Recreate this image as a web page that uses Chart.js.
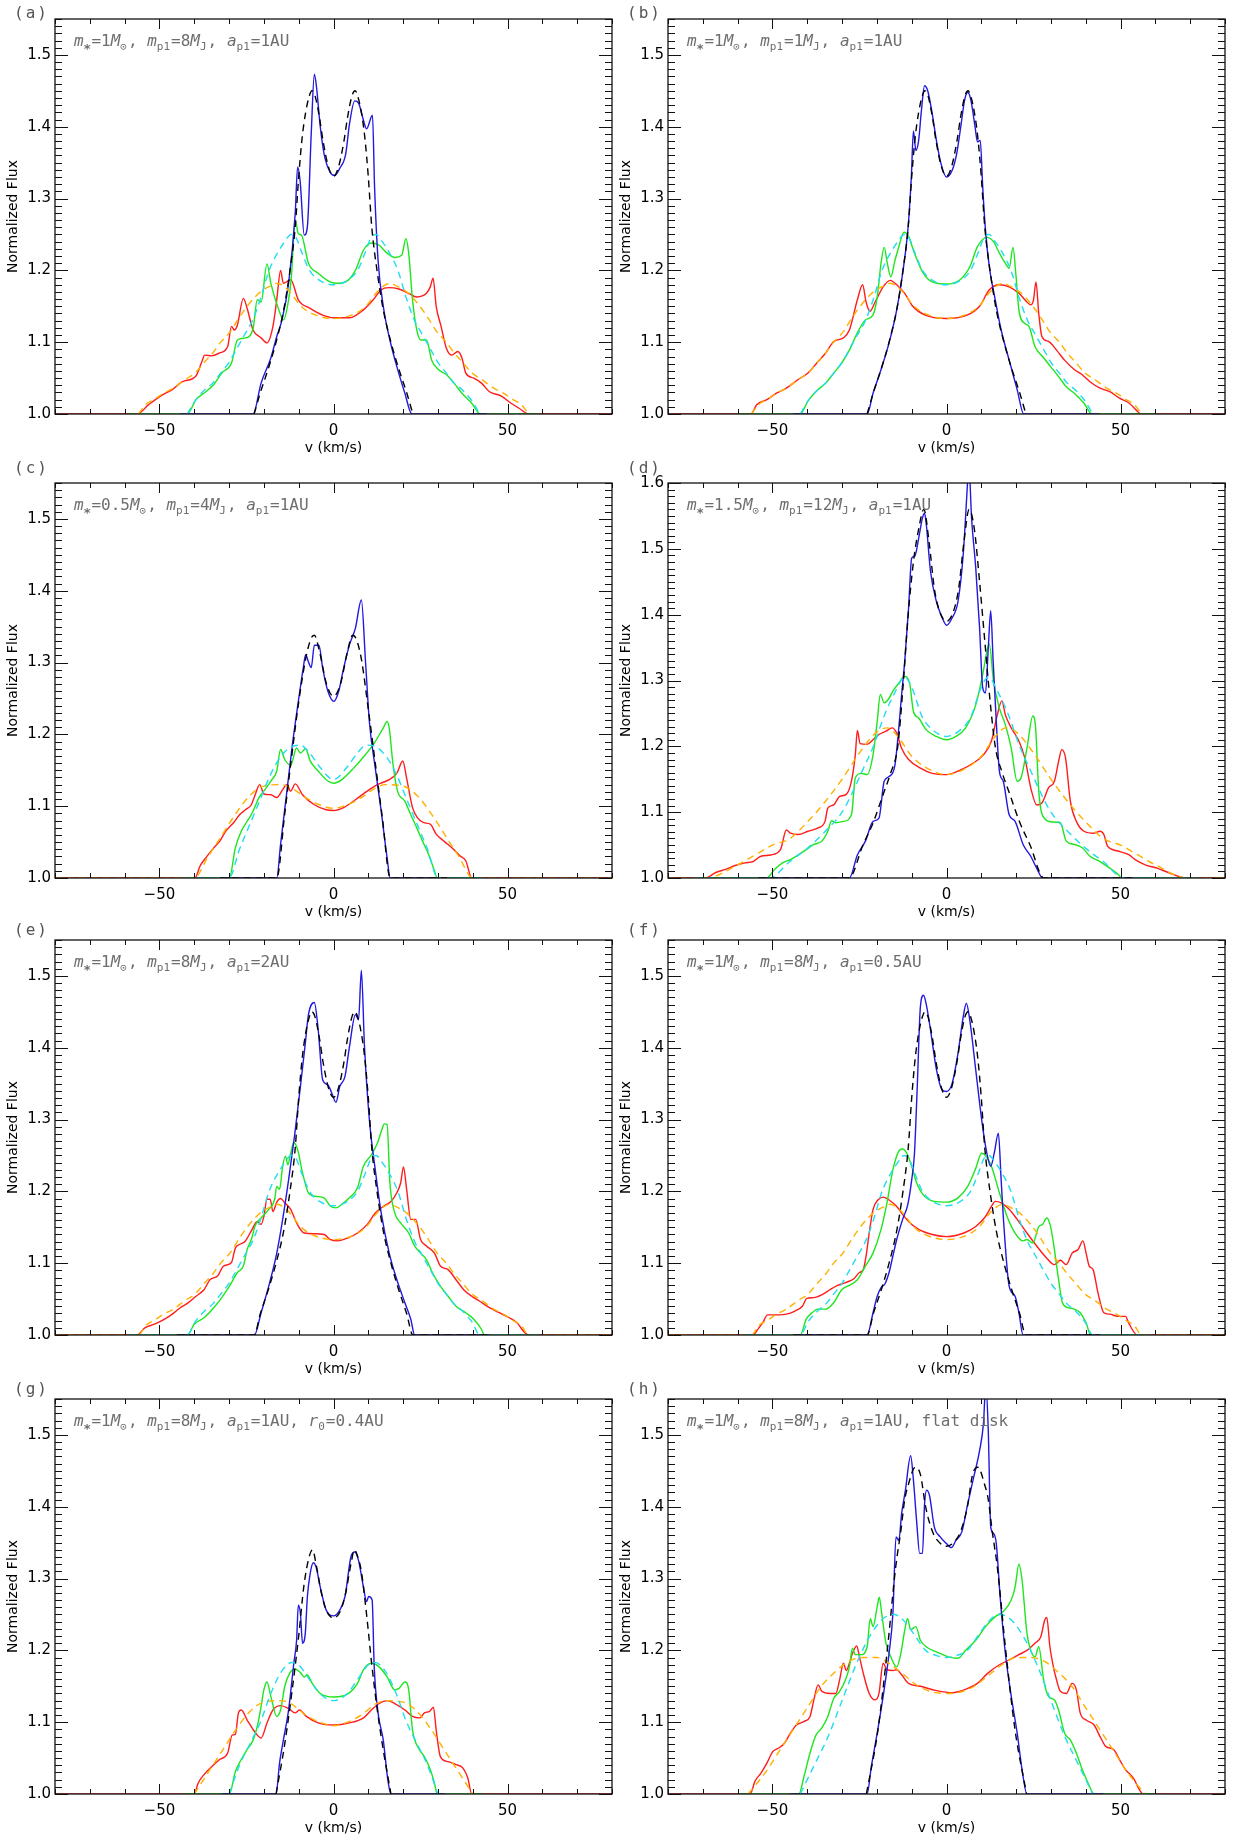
<!DOCTYPE html>
<html>
<head>
<meta charset="utf-8">
<script src="https://cdn.jsdelivr.net/npm/chart.js@4.4.1/dist/chart.umd.min.js"></script>
<style>
  body { margin: 0; background: #fff; overflow: hidden; }
  #fig { position: relative; width: 1240px; height: 1838px; background: #fff; overflow: hidden; }
  #fig canvas { position: absolute; }
</style>
</head>
<body>
<div id="fig"></div>
<script>
// ---- axes ----
const vMin = -80, vMax = 80;
const xLabelStep = 50;
const yStep = 0.1;
const yTops = [1.55, 1.55, 1.55, 1.6, 1.55, 1.55, 1.55, 1.55];
const tags = ['(a)', '(b)', '(c)', '(d)', '(e)', '(f)', '(g)', '(h)'];
const notes = [
  '{m}_*=1{M}_⊙, {m}_p1=8{M}_J, {a}_p1=1AU',
  '{m}_*=1{M}_⊙, {m}_p1=1{M}_J, {a}_p1=1AU',
  '{m}_*=0.5{M}_⊙, {m}_p1=4{M}_J, {a}_p1=1AU',
  '{m}_*=1.5{M}_⊙, {m}_p1=12{M}_J, {a}_p1=1AU',
  '{m}_*=1{M}_⊙, {m}_p1=8{M}_J, {a}_p1=2AU',
  '{m}_*=1{M}_⊙, {m}_p1=8{M}_J, {a}_p1=0.5AU',
  '{m}_*=1{M}_⊙, {m}_p1=8{M}_J, {a}_p1=1AU, {r}_0=0.4AU',
  '{m}_*=1{M}_⊙, {m}_p1=8{M}_J, {a}_p1=1AU, flat disk'
];
// flat baseline (flux 1.0) extends out to these velocities
const blueSpan = [44, 44, 32.6, 54, 45, 44, 32, 45];
const greenSpan = [59, 60, 43, 72, 59, 58, 43, 60];
const redSpan = [80, 80, 80, 80, 80, 80, 80, 80];
const dashOnBase = [false, false, true, true, true, true, false, false];

// ---- unperturbed disk profiles, m* = 1 Msun ----
const disk1Black = [[-22.8,1.0],[-21,1.03],[-18.8,1.062],[-16.5,1.1],[-14.3,1.145],[-12.5,1.2],[-11,1.26],[-10,1.33],[-9,1.385],[-8,1.42],[-7,1.442],[-6.2,1.45],[-5.3,1.443],[-4,1.412],[-3,1.38],[-1.5,1.345],[0,1.331],[1.5,1.345],[3,1.38],[4,1.412],[5.3,1.443],[6.2,1.45],[7,1.442],[8,1.42],[9,1.385],[10,1.33],[11,1.26],[12.5,1.2],[14.3,1.145],[16.5,1.1],[18.8,1.062],[21,1.03],[22.8,1.0]];
const disk1Cyan = [[-42,1.0],[-39.8,1.018],[-36.9,1.034],[-34.7,1.043],[-32.4,1.057],[-30,1.072],[-28,1.089],[-25.6,1.11],[-23.3,1.13],[-21,1.16],[-18.5,1.2],[-16,1.225],[-14,1.24],[-12.2,1.25],[-10.9,1.247],[-9.2,1.226],[-6.9,1.2],[-4,1.186],[0,1.18],[4,1.186],[6.9,1.2],[9.2,1.226],[10.9,1.247],[12.2,1.25],[14,1.24],[16,1.225],[18.5,1.2],[21,1.16],[23.3,1.13],[25.6,1.11],[28,1.089],[30,1.072],[32.4,1.057],[34.7,1.043],[36.9,1.034],[39.8,1.018],[42,1.0]];
const disk1Orange = [[-56,1.0],[-54,1.013],[-51.6,1.02],[-48.8,1.029],[-46,1.036],[-42.6,1.048],[-39.8,1.057],[-36.9,1.073],[-34.7,1.085],[-32.4,1.1],[-29.6,1.115],[-27,1.135],[-24,1.155],[-21,1.17],[-18.2,1.178],[-16.2,1.182],[-14.3,1.178],[-12,1.167],[-9.7,1.152],[-6.3,1.14],[0,1.133],[6.3,1.14],[9.7,1.152],[12,1.167],[14.3,1.178],[16.2,1.182],[18.2,1.178],[21,1.17],[24,1.155],[27,1.135],[29.6,1.115],[32.4,1.1],[34.7,1.085],[36.9,1.073],[39.8,1.057],[42.6,1.048],[46,1.036],[48.8,1.029],[51.6,1.02],[54,1.013],[56,1.0]];

// ---- (a) ----
const aBlue = [[-23.1,1.0],[-20.8,1.043],[-18.0,1.078],[-16.3,1.108],[-14.8,1.131],[-12.9,1.182],[-11.0,1.279],[-10.3,1.344],[-9.6,1.325],[-8.4,1.249],[-7.5,1.261],[-6.4,1.39],[-5.5,1.473],[-4.9,1.456],[-3.8,1.40],[-2.7,1.362],[-1.0,1.337],[0.3,1.332],[1.8,1.342],[3.5,1.362],[4.6,1.404],[6.1,1.436],[7.2,1.433],[8.6,1.409],[9.5,1.397],[11.2,1.416],[11.8,1.316],[12.8,1.214],[14.3,1.150],[16.2,1.103],[18.2,1.066],[20.5,1.029],[22.5,1.0]];
const aGreen = [[-42.0,1.0],[-39.5,1.02],[-36.7,1.031],[-34.4,1.041],[-32.1,1.057],[-29.3,1.071],[-27.6,1.103],[-25.3,1.106],[-23.1,1.119],[-21.9,1.159],[-20.8,1.156],[-19.1,1.209],[-18.0,1.182],[-15.7,1.145],[-14.4,1.131],[-12.9,1.159],[-12.1,1.191],[-11.0,1.270],[-10.1,1.251],[-9.2,1.249],[-7.2,1.210],[-4.4,1.196],[-1.0,1.184],[1.2,1.182],[3.5,1.184],[6.3,1.200],[8.6,1.228],[10.9,1.238],[13.1,1.235],[15.4,1.224],[17.6,1.218],[19.6,1.221],[20.8,1.244],[21.6,1.224],[22.7,1.159],[24.1,1.113],[25.2,1.103],[26.7,1.103],[28.2,1.075],[30.1,1.062],[32.4,1.055],[34.6,1.043],[36.9,1.029],[39.7,1.015],[42.2,1.0]];
const aRed = [[-56.4,1.0],[-53.1,1.013],[-49.7,1.025],[-46.3,1.034],[-43.4,1.045],[-39.5,1.053],[-37.8,1.073],[-37.0,1.082],[-35.0,1.081],[-32.7,1.085],[-30.4,1.094],[-29.3,1.122],[-28.5,1.117],[-27.6,1.124],[-25.9,1.161],[-24.8,1.147],[-23.1,1.117],[-20.8,1.106],[-19.1,1.099],[-17.4,1.122],[-16.3,1.159],[-15.2,1.200],[-14.4,1.182],[-12.3,1.187],[-10.1,1.159],[-6.7,1.147],[-3.3,1.138],[0.1,1.134],[4.6,1.134],[8.6,1.145],[11.4,1.159],[13.7,1.173],[15.9,1.176],[18.8,1.174],[21.6,1.168],[23.9,1.163],[26.7,1.168],[27.8,1.177],[28.6,1.189],[29.5,1.150],[30.9,1.122],[32.4,1.092],[34.0,1.082],[35.7,1.087],[36.9,1.078],[38.0,1.057],[40.3,1.050],[42.5,1.043],[44.8,1.031],[48.2,1.025],[51.0,1.015],[53.3,1.008],[56.1,1.0]];

// ---- (b) ----
const bBlue = [[-22.8,1.0],[-21.1,1.029],[-18.8,1.062],[-16.5,1.099],[-14.3,1.145],[-12.6,1.196],[-11.1,1.256],[-10.1,1.330],[-9.5,1.394],[-8.8,1.367],[-8.0,1.381],[-7.2,1.423],[-6.3,1.457],[-5.4,1.450],[-4.1,1.418],[-2.9,1.381],[-1.6,1.349],[0,1.330],[1.6,1.339],[2.9,1.362],[4.1,1.400],[5.2,1.437],[6.1,1.448],[7.0,1.437],[8.2,1.400],[8.9,1.379],[9.7,1.381],[10.4,1.316],[11.2,1.256],[12.3,1.205],[14.0,1.159],[15.7,1.117],[18.0,1.075],[20.3,1.034],[22.2,1.0]];
const bGreen = [[-42.0,1.0],[-39.8,1.018],[-36.9,1.034],[-34.7,1.043],[-32.4,1.057],[-30.1,1.071],[-27.9,1.089],[-25.6,1.113],[-23.3,1.131],[-21.1,1.138],[-19.9,1.163],[-18.8,1.210],[-17.9,1.232],[-17.0,1.210],[-16.0,1.191],[-14.8,1.214],[-13.7,1.233],[-12.2,1.253],[-10.9,1.247],[-9.2,1.224],[-6.9,1.198],[-4.1,1.184],[0,1.181],[3.9,1.187],[6.7,1.205],[8.9,1.233],[11.6,1.246],[13.5,1.240],[15.2,1.224],[16.9,1.210],[18.0,1.203],[19.1,1.232],[19.9,1.196],[20.8,1.145],[22.5,1.126],[23.7,1.122],[25.4,1.094],[27.6,1.080],[29.9,1.066],[32.2,1.052],[34.4,1.038],[36.7,1.029],[39.5,1.015],[41.8,1.0]];
const bRed = [[-56.2,1.0],[-54.5,1.013],[-51.6,1.020],[-48.8,1.029],[-46.0,1.036],[-42.6,1.048],[-39.8,1.057],[-36.9,1.073],[-34.7,1.085],[-32.4,1.101],[-29.6,1.106],[-27.9,1.117],[-25.6,1.159],[-24.1,1.180],[-23.1,1.156],[-22.0,1.143],[-20.5,1.156],[-18.2,1.177],[-16.2,1.186],[-14.3,1.180],[-12.0,1.168],[-9.7,1.150],[-6.3,1.138],[0,1.133],[6.1,1.138],[9.5,1.150],[12.3,1.173],[15.2,1.180],[18.0,1.177],[20.8,1.168],[23.1,1.156],[24.2,1.152],[25.0,1.159],[25.7,1.184],[26.5,1.140],[27.4,1.108],[29.3,1.101],[31.6,1.089],[33.9,1.075],[36.7,1.062],[38.9,1.055],[41.2,1.045],[44.1,1.036],[46.9,1.031],[49.7,1.022],[52.5,1.015],[54.8,1.004],[55.9,1.0]];

// ---- (c) ----
const cBlack = [[-16.3,1.0],[-14,1.09],[-12,1.17],[-10,1.245],[-8,1.305],[-6.5,1.333],[-5.5,1.338],[-4,1.315],[-2,1.27],[0,1.253],[2,1.27],[4,1.315],[5.5,1.338],[6.5,1.333],[8,1.305],[10,1.235],[12,1.16],[14,1.085],[16.3,1.0]];
const cCyan = [[-30,1.0],[-27,1.04],[-24,1.075],[-21,1.11],[-18,1.145],[-15,1.17],[-12,1.183],[-9.5,1.185],[-7,1.175],[-4,1.155],[0,1.137],[4,1.155],[7,1.175],[9.5,1.185],[12,1.183],[15,1.17],[18,1.145],[21,1.11],[24,1.075],[27,1.04],[30,1.0]];
const cOrange = [[-40,1.0],[-36,1.03],[-32,1.06],[-28,1.09],[-24,1.115],[-20,1.128],[-15,1.13],[-12,1.125],[-8,1.112],[-4,1.102],[0,1.097],[4,1.102],[8,1.112],[12,1.125],[15,1.13],[20,1.128],[24,1.115],[28,1.09],[32,1.06],[36,1.03],[40,1.0]];
const cBlue = [[-16.3,1.0],[-15.2,1.047],[-13.5,1.116],[-11.8,1.186],[-10.1,1.246],[-8.7,1.292],[-8.0,1.311],[-7.2,1.301],[-6.4,1.293],[-5.5,1.324],[-4.2,1.324],[-3.1,1.292],[-1.6,1.260],[0.1,1.246],[1.5,1.260],[2.9,1.292],[4.6,1.325],[6.3,1.348],[8.0,1.387],[9.2,1.301],[10.3,1.218],[12.0,1.153],[13.7,1.093],[15.4,1.028],[16.3,1.0]];
const cGreen = [[-29.9,1.0],[-28.2,1.042],[-26.5,1.065],[-24.8,1.079],[-23.1,1.093],[-21.4,1.112],[-19.7,1.123],[-18.0,1.135],[-16.3,1.149],[-15.2,1.179],[-14.0,1.165],[-12.3,1.157],[-10.6,1.181],[-9.5,1.174],[-8.0,1.180],[-6.7,1.163],[-4.4,1.149],[-1.6,1.135],[0.1,1.132],[2.4,1.137],[5.8,1.153],[9.2,1.172],[12.0,1.190],[14.3,1.209],[15.4,1.218],[16.0,1.209],[17.1,1.158],[18.4,1.121],[20.5,1.107],[22.2,1.088],[23.9,1.070],[25.6,1.051],[27.3,1.033],[29.0,1.010],[29.8,1.0]];
const cRed = [[-39.8,1.0],[-38.3,1.017],[-36.7,1.028],[-34.4,1.042],[-32.7,1.051],[-31.0,1.065],[-28.7,1.077],[-27.0,1.088],[-25.3,1.095],[-23.6,1.102],[-22.5,1.116],[-21.2,1.130],[-20.0,1.117],[-18.0,1.116],[-16.3,1.112],[-14.6,1.123],[-13.5,1.130],[-12.3,1.121],[-11.0,1.131],[-8.9,1.116],[-5.5,1.102],[-2.1,1.095],[0.1,1.094],[2.9,1.098],[6.3,1.109],[9.7,1.121],[12.6,1.130],[16.0,1.137],[18.2,1.146],[19.9,1.163],[21.0,1.139],[22.7,1.098],[24.1,1.084],[25.9,1.077],[27.8,1.075],[29.5,1.061],[31.8,1.051],[34.0,1.042],[36.3,1.031],[38.0,1.024],[39.7,1.0]];

// ---- (d) ----
const dBlack = [[-28,1.0],[-24,1.05],[-21,1.085],[-18,1.13],[-16,1.16],[-14,1.2],[-12.5,1.29],[-11,1.4],[-9.5,1.48],[-8,1.53],[-6.5,1.56],[-5,1.51],[-3.5,1.44],[-2,1.405],[0,1.39],[2,1.405],[3.5,1.44],[5,1.51],[6.5,1.56],[8,1.53],[9.5,1.45],[11,1.36],[12.5,1.27],[14,1.2],[16,1.16],[18,1.13],[21,1.085],[24,1.05],[28,1.0]];
const dCyan = [[-51,1.0],[-45,1.025],[-40,1.045],[-35,1.07],[-30,1.1],[-27,1.13],[-24,1.165],[-21,1.2],[-18,1.245],[-15,1.28],[-12,1.305],[-10,1.29],[-7,1.245],[-4,1.225],[0,1.215],[4,1.225],[7,1.245],[10,1.29],[12,1.305],[15,1.28],[18,1.245],[21,1.2],[24,1.165],[27,1.13],[30,1.1],[35,1.07],[40,1.045],[45,1.025],[51,1.0]];
const dOrange = [[-69,1.0],[-60,1.02],[-55,1.035],[-50,1.05],[-45,1.06],[-40,1.085],[-35,1.115],[-30,1.15],[-25,1.19],[-20,1.222],[-17,1.228],[-14,1.215],[-10,1.185],[-6,1.168],[0,1.157],[6,1.168],[10,1.185],[14,1.215],[17,1.228],[20,1.222],[25,1.19],[30,1.15],[35,1.115],[40,1.085],[45,1.06],[50,1.05],[55,1.035],[60,1.02],[69,1.0]];
const dBlue = [[-27.9,1.0],[-25.6,1.035],[-23.3,1.056],[-21.1,1.086],[-19.4,1.091],[-17.9,1.147],[-16.5,1.154],[-14.8,1.172],[-13.7,1.228],[-12.9,1.278],[-12.0,1.329],[-10.9,1.410],[-10.0,1.486],[-9.1,1.489],[-8.0,1.516],[-6.9,1.547],[-6.3,1.554],[-5.8,1.537],[-4.6,1.466],[-2.9,1.420],[-1.2,1.395],[0,1.384],[1.6,1.395],[3.3,1.420],[4.8,1.491],[5.9,1.587],[6.4,1.63],[7.2,1.547],[8.4,1.471],[9.5,1.380],[10.4,1.289],[11.2,1.281],[12.0,1.349],[12.7,1.406],[13.4,1.329],[14.3,1.238],[15.2,1.162],[16.3,1.147],[18.0,1.096],[19.7,1.086],[22.0,1.051],[24.2,1.033],[25.9,1.015],[27.6,1.0]];
const dGreen = [[-51.6,1.0],[-49.4,1.013],[-47.1,1.023],[-44.8,1.028],[-42.6,1.035],[-40.3,1.043],[-38.1,1.051],[-35.8,1.056],[-34.1,1.071],[-33.0,1.087],[-31.8,1.084],[-29.6,1.086],[-27.3,1.096],[-26.2,1.152],[-24.5,1.159],[-22.8,1.157],[-21.1,1.187],[-19.9,1.238],[-19.0,1.279],[-17.9,1.266],[-16.5,1.273],[-15.4,1.284],[-13.7,1.296],[-12.0,1.306],[-10.6,1.296],[-9.5,1.253],[-8.0,1.243],[-5.8,1.225],[-2.9,1.215],[0,1.210],[2.7,1.215],[5.5,1.228],[8.4,1.263],[10.4,1.309],[11.8,1.349],[12.3,1.355],[13.5,1.299],[15.2,1.258],[16.9,1.233],[18.6,1.197],[20.3,1.147],[21.4,1.152],[23.1,1.197],[24.8,1.246],[25.6,1.228],[26.5,1.132],[28.2,1.090],[30.5,1.085],[32.7,1.084],[34.4,1.056],[36.7,1.051],[39.0,1.046],[41.2,1.033],[44.1,1.025],[46.9,1.015],[49.4,1.005],[50.3,1.0]];
const dRed = [[-69.2,1.0],[-66.4,1.008],[-63.5,1.013],[-60.7,1.019],[-57.9,1.023],[-55.6,1.025],[-53.3,1.033],[-50.5,1.035],[-47.7,1.043],[-46.0,1.073],[-44.8,1.068],[-42.6,1.066],[-39.8,1.071],[-36.9,1.076],[-34.9,1.086],[-34.1,1.106],[-32.4,1.111],[-30.7,1.124],[-28.8,1.127],[-27.3,1.147],[-26.2,1.187],[-25.6,1.224],[-24.8,1.204],[-22.8,1.203],[-21.1,1.210],[-19.4,1.218],[-17.4,1.223],[-15.6,1.228],[-14.3,1.220],[-12.9,1.197],[-10.9,1.180],[-7.5,1.167],[-4.1,1.159],[0,1.157],[4.4,1.165],[7.8,1.175],[10.6,1.187],[12.9,1.208],[14.6,1.248],[15.9,1.269],[16.9,1.248],[18.6,1.228],[20.8,1.208],[22.5,1.182],[24.2,1.137],[25.9,1.111],[27.4,1.114],[29.3,1.137],[31.0,1.147],[32.2,1.177],[33.1,1.195],[34.2,1.182],[35.6,1.116],[37.3,1.086],[39.5,1.071],[42.4,1.068],[44.1,1.071],[45.2,1.066],[46.3,1.048],[49.2,1.041],[52.5,1.035],[54.2,1.028],[57.1,1.020],[60.5,1.015],[63.9,1.008],[69.0,1.0]];

// ---- (e) ----
const eBlue = [[-22.7,1.0],[-20.8,1.031],[-18.6,1.068],[-16.3,1.114],[-14.6,1.161],[-12.9,1.216],[-11.2,1.277],[-9.5,1.346],[-8.1,1.406],[-7.2,1.446],[-5.5,1.463],[-4.4,1.425],[-3.1,1.355],[-1.6,1.348],[-0.5,1.337],[0.7,1.324],[1.8,1.346],[3.3,1.360],[4.6,1.402],[6.3,1.446],[7.2,1.439],[8.0,1.508],[8.9,1.402],[10.3,1.300],[12.0,1.230],[13.7,1.170],[16.0,1.114],[18.2,1.077],[20.5,1.045],[22.2,1.022],[23.3,1.0]];
const eGreen = [[-42.0,1.0],[-40.0,1.015],[-37.2,1.024],[-34.4,1.038],[-32.1,1.052],[-29.9,1.068],[-27.6,1.087],[-25.9,1.096],[-24.8,1.119],[-23.6,1.133],[-22.5,1.152],[-20.8,1.163],[-18.6,1.175],[-16.9,1.189],[-16.3,1.207],[-15.5,1.203],[-14.6,1.235],[-13.8,1.249],[-13.1,1.237],[-12.3,1.253],[-11.4,1.268],[-10.3,1.258],[-8.9,1.226],[-7.2,1.198],[-5.0,1.193],[-2.7,1.191],[-1.0,1.180],[0.7,1.177],[2.4,1.182],[4.6,1.191],[6.9,1.205],[8.6,1.235],[10.9,1.251],[12.6,1.267],[13.9,1.286],[14.6,1.294],[15.4,1.293],[16.2,1.212],[17.6,1.170],[19.3,1.156],[21.6,1.142],[23.3,1.124],[25.0,1.114],[26.7,1.105],[28.4,1.087],[30.7,1.068],[32.9,1.054],[35.2,1.040],[38.0,1.031],[40.3,1.022],[42.5,1.008],[43.3,1.0]];
const eRed = [[-56.4,1.0],[-54.2,1.010],[-51.4,1.015],[-48.5,1.022],[-46.3,1.029],[-44.0,1.038],[-41.7,1.045],[-39.5,1.054],[-37.2,1.063],[-35.5,1.077],[-33.3,1.082],[-31.6,1.096],[-29.3,1.101],[-28.2,1.121],[-27.0,1.126],[-25.3,1.131],[-23.6,1.145],[-21.9,1.158],[-20.8,1.154],[-20.0,1.165],[-19.1,1.189],[-18.2,1.189],[-17.4,1.172],[-16.3,1.185],[-15.2,1.190],[-14.0,1.184],[-12.3,1.175],[-10.6,1.156],[-8.4,1.142],[-5.5,1.141],[-2.7,1.140],[-1.0,1.133],[1.2,1.131],[4.1,1.135],[6.9,1.142],[9.7,1.154],[12.0,1.170],[14.3,1.179],[16.5,1.186],[18.2,1.198],[19.3,1.212],[20.1,1.234],[21.0,1.203],[22.2,1.161],[23.6,1.161],[25.0,1.133],[26.7,1.124],[29.0,1.114],[30.7,1.096],[32.9,1.091],[35.2,1.077],[37.4,1.063],[39.7,1.054],[42.0,1.047],[44.8,1.038],[47.6,1.031],[50.5,1.024],[52.7,1.017],[55.0,1.003],[56.1,1.0]];

// ---- (f) ----
const fBlue = [[-22.8,1.0],[-21.1,1.031],[-19.9,1.054],[-18.8,1.066],[-17.7,1.071],[-16.5,1.087],[-15.4,1.110],[-14.3,1.133],[-12.6,1.161],[-11.1,1.182],[-10.0,1.216],[-9.2,1.253],[-8.4,1.346],[-7.5,1.457],[-6.6,1.473],[-5.8,1.460],[-4.6,1.425],[-2.9,1.370],[-1.2,1.341],[0,1.339],[1.6,1.350],[3.3,1.392],[4.8,1.443],[5.7,1.462],[6.7,1.438],[8.4,1.369],[10.1,1.300],[11.6,1.253],[12.7,1.235],[13.7,1.253],[14.9,1.281],[15.7,1.216],[16.5,1.151],[18.0,1.068],[19.7,1.054],[20.8,1.031],[22.0,1.0]];
const fGreen = [[-42.0,1.0],[-40.3,1.022],[-38.6,1.031],[-36.9,1.036],[-34.7,1.036],[-32.4,1.045],[-30.1,1.063],[-28.4,1.068],[-25.6,1.077],[-23.3,1.096],[-21.1,1.114],[-18.8,1.147],[-17.1,1.184],[-15.4,1.230],[-13.7,1.256],[-12.6,1.259],[-11.4,1.253],[-10.0,1.235],[-8.6,1.212],[-6.3,1.193],[-3.5,1.186],[0,1.185],[3.3,1.191],[6.1,1.207],[8.4,1.232],[10.1,1.253],[11.2,1.250],[12.9,1.235],[15.2,1.198],[17.4,1.165],[19.7,1.142],[22.0,1.131],[23.1,1.133],[24.8,1.128],[26.5,1.151],[27.6,1.154],[28.8,1.163],[29.9,1.151],[31.0,1.119],[32.2,1.077],[33.3,1.045],[35.0,1.038],[36.7,1.036],[38.4,1.031],[40.1,1.017],[41.4,1.0]];
const fRed = [[-55.6,1.0],[-53.9,1.010],[-52.8,1.017],[-51.4,1.028],[-49.9,1.028],[-48.2,1.028],[-46.0,1.029],[-43.7,1.033],[-41.4,1.040],[-40.1,1.051],[-38.1,1.052],[-35.8,1.056],[-33.5,1.063],[-31.3,1.069],[-29.0,1.073],[-26.7,1.078],[-25.0,1.087],[-23.9,1.091],[-23.1,1.110],[-22.2,1.142],[-21.1,1.175],[-19.7,1.188],[-18.2,1.192],[-16.5,1.188],[-14.3,1.179],[-12.6,1.168],[-10.9,1.158],[-8.0,1.147],[-4.1,1.140],[0,1.137],[5.0,1.142],[8.4,1.151],[11.2,1.165],[12.9,1.179],[14.0,1.186],[15.7,1.184],[18.0,1.175],[20.3,1.161],[23.1,1.142],[25.9,1.124],[28.8,1.107],[31.0,1.098],[32.7,1.104],[34.4,1.098],[36.1,1.114],[37.8,1.119],[39.2,1.131],[40.1,1.114],[41.0,1.096],[42.1,1.091],[43.5,1.059],[45.2,1.031],[46.9,1.029],[49.2,1.026],[51.4,1.026],[52.5,1.015],[54.8,1.0]];

// ---- (g) ----
const gBlack = [[-16.5,1.0],[-14,1.07],[-12,1.14],[-10,1.22],[-8.5,1.29],[-7,1.33],[-6,1.34],[-5,1.32],[-3.5,1.28],[-2,1.255],[0,1.245],[2,1.255],[3.5,1.28],[5,1.32],[6,1.34],[7,1.33],[8,1.31],[9.5,1.25],[11,1.18],[12.5,1.12],[14,1.07],[16.5,1.0]];
const gCyan = [[-30,1.0],[-27,1.04],[-24,1.07],[-21,1.10],[-18,1.14],[-15,1.17],[-12,1.183],[-10,1.18],[-7,1.16],[-4,1.14],[0,1.13],[4,1.14],[7,1.16],[10,1.18],[12,1.183],[15,1.17],[18,1.14],[21,1.10],[24,1.07],[27,1.04],[30,1.0]];
const gOrange = [[-40,1.0],[-36,1.03],[-32,1.06],[-28,1.09],[-24,1.115],[-20,1.128],[-15,1.13],[-12,1.125],[-8,1.11],[-4,1.1],[0,1.095],[4,1.1],[8,1.11],[12,1.125],[15,1.13],[20,1.128],[24,1.115],[28,1.09],[32,1.06],[36,1.03],[40,1.0]];
const gBlue = [[-16.5,1.0],[-15.5,1.043],[-14.4,1.075],[-12.9,1.117],[-11.4,1.182],[-10.6,1.214],[-10.1,1.263],[-9.5,1.251],[-8.9,1.210],[-8.1,1.224],[-7.5,1.275],[-6.7,1.307],[-5.8,1.322],[-5.0,1.316],[-3.8,1.288],[-2.1,1.256],[0.1,1.248],[1.8,1.256],[3.3,1.275],[5.0,1.330],[6.1,1.337],[7.2,1.325],[8.6,1.288],[9.5,1.268],[10.1,1.275],[11.1,1.270],[11.7,1.177],[12.8,1.113],[14.3,1.075],[15.6,1.020],[16.5,1.0]];
const gGreen = [[-29.9,1.0],[-28.2,1.031],[-26.5,1.048],[-24.8,1.062],[-23.1,1.075],[-21.9,1.094],[-20.8,1.122],[-20.0,1.145],[-19.1,1.156],[-18.0,1.136],[-16.3,1.108],[-15.2,1.117],[-14.0,1.150],[-12.6,1.168],[-11.0,1.174],[-9.5,1.169],[-8.4,1.163],[-7.6,1.166],[-6.1,1.154],[-3.8,1.140],[0.1,1.135],[4.0,1.139],[6.9,1.154],[8.6,1.173],[10.9,1.182],[13.1,1.177],[15.4,1.163],[17.6,1.145],[18.8,1.147],[20.5,1.156],[21.6,1.145],[22.7,1.089],[24.4,1.064],[26.1,1.052],[27.8,1.034],[29.0,1.015],[29.8,1.0]];
const gRed = [[-40.0,1.0],[-38.9,1.015],[-37.2,1.027],[-35.0,1.038],[-32.7,1.048],[-30.4,1.057],[-29.1,1.082],[-28.2,1.083],[-27.3,1.113],[-26.5,1.117],[-24.8,1.103],[-22.7,1.087],[-20.8,1.078],[-19.1,1.099],[-17.4,1.117],[-15.2,1.123],[-12.9,1.119],[-11.0,1.113],[-9.8,1.117],[-7.8,1.108],[-4.4,1.099],[0.1,1.096],[4.6,1.099],[8.6,1.106],[10.9,1.117],[13.1,1.126],[15.4,1.130],[17.6,1.126],[20.5,1.117],[22.7,1.108],[24.8,1.106],[26.1,1.113],[27.6,1.115],[28.7,1.121],[29.5,1.089],[30.7,1.052],[32.9,1.045],[35.2,1.041],[37.2,1.036],[38.6,1.022],[39.7,1.0]];

// ---- (h) ----
const hBlack = [[-23,1.0],[-19.7,1.089],[-16.9,1.205],[-14.6,1.316],[-13.1,1.367],[-12,1.41],[-11,1.43],[-9,1.455],[-7.5,1.445],[-6,1.40],[-4,1.365],[-2,1.35],[0,1.345],[2,1.35],[4,1.365],[6,1.40],[7.5,1.445],[9,1.455],[11,1.43],[12,1.41],[13.1,1.367],[14.6,1.316],[16.9,1.205],[19.7,1.089],[23,1.0]];
const hCyan = [[-42,1.0],[-38,1.04],[-34,1.08],[-30,1.13],[-26,1.18],[-22,1.22],[-18,1.245],[-15,1.25],[-12,1.24],[-9,1.22],[-6,1.2],[-3,1.193],[0,1.19],[3,1.193],[6,1.2],[9,1.22],[12,1.24],[15,1.25],[18,1.245],[22,1.22],[26,1.18],[30,1.13],[34,1.08],[38,1.04],[42,1.0]];
const hOrange = [[-57,1.0],[-52,1.03],[-48,1.06],[-44,1.09],[-40,1.12],[-36,1.15],[-32,1.17],[-28,1.185],[-24,1.19],[-20,1.19],[-16,1.18],[-12,1.165],[-8,1.15],[-4,1.142],[0,1.14],[4,1.142],[8,1.15],[12,1.165],[16,1.18],[20,1.19],[24,1.19],[28,1.185],[32,1.17],[36,1.15],[40,1.12],[44,1.09],[48,1.06],[52,1.03],[57,1.0]];
const hBlue = [[-22.8,1.0],[-21.6,1.038],[-19.9,1.085],[-18.2,1.136],[-16.5,1.196],[-15.4,1.251],[-14.5,1.358],[-13.7,1.353],[-12.9,1.390],[-11.8,1.423],[-10.3,1.471],[-9.5,1.437],[-8.6,1.381],[-7.7,1.335],[-6.9,1.335],[-6.3,1.404],[-5.7,1.423],[-4.9,1.416],[-3.5,1.372],[-1.8,1.358],[-0.1,1.349],[1.4,1.343],[2.7,1.353],[4.4,1.365],[6.1,1.404],[7.8,1.441],[9.5,1.478],[10.6,1.515],[11.3,1.57],[12.0,1.506],[12.7,1.372],[13.5,1.363],[14.3,1.349],[15.4,1.275],[16.9,1.196],[18.6,1.136],[20.3,1.085],[21.7,1.034],[23.1,1.0]];
const hGreen = [[-42.4,1.0],[-40.9,1.025],[-39.2,1.057],[-37.5,1.082],[-35.8,1.092],[-34.1,1.108],[-32.4,1.133],[-30.7,1.143],[-29.0,1.159],[-27.9,1.177],[-27.0,1.203],[-26.2,1.194],[-24.5,1.194],[-22.8,1.205],[-21.9,1.244],[-21.1,1.233],[-19.9,1.261],[-19.3,1.274],[-18.6,1.251],[-17.4,1.210],[-16.0,1.191],[-14.3,1.177],[-13.1,1.196],[-12.0,1.228],[-11.2,1.244],[-10.3,1.229],[-8.8,1.233],[-7.5,1.214],[-5.2,1.203],[-2.9,1.198],[0.5,1.191],[3.3,1.189],[5.5,1.200],[8.4,1.214],[11.2,1.233],[14.0,1.247],[16.3,1.254],[18.6,1.270],[19.7,1.288],[20.8,1.320],[21.7,1.298],[23.1,1.224],[24.2,1.200],[25.4,1.191],[26.5,1.205],[27.9,1.159],[29.3,1.136],[31.0,1.131],[32.2,1.117],[33.9,1.085],[35.6,1.075],[37.3,1.057],[39.0,1.034],[40.7,1.015],[42.4,1.0]];
const hRed = [[-56.4,1.0],[-55.0,1.018],[-53.3,1.029],[-51.6,1.043],[-49.9,1.059],[-48.2,1.064],[-46.5,1.071],[-44.8,1.085],[-43.1,1.096],[-40.9,1.101],[-39.2,1.108],[-38.1,1.131],[-36.9,1.152],[-35.8,1.143],[-33.5,1.140],[-31.8,1.140],[-30.7,1.159],[-29.6,1.182],[-28.8,1.172],[-27.9,1.182],[-27.0,1.196],[-25.8,1.206],[-25.0,1.191],[-23.9,1.168],[-22.2,1.140],[-20.5,1.131],[-19.4,1.140],[-18.2,1.182],[-17.1,1.173],[-15.4,1.172],[-14.3,1.173],[-12.9,1.166],[-10.9,1.154],[-7.5,1.150],[-2.9,1.144],[1.6,1.141],[6.1,1.147],[8.9,1.154],[11.8,1.168],[15.2,1.180],[18.6,1.188],[20.8,1.194],[23.1,1.200],[25.4,1.210],[27.1,1.219],[28.2,1.242],[28.8,1.246],[29.7,1.205],[30.5,1.182],[31.6,1.159],[32.7,1.143],[34.4,1.140],[36.1,1.154],[37.3,1.145],[38.4,1.113],[40.1,1.103],[42.4,1.096],[44.1,1.080],[45.8,1.066],[48.0,1.062],[49.7,1.048],[51.4,1.034],[53.7,1.022],[55.4,1.006],[56.5,1.0]];

const blues = [aBlue, bBlue, cBlue, dBlue, eBlue, fBlue, gBlue, hBlue];
const blacks = [disk1Black, disk1Black, cBlack, dBlack, disk1Black, disk1Black, gBlack, hBlack];
const greens = [aGreen, bGreen, cGreen, dGreen, eGreen, fGreen, gGreen, hGreen];
const cyans = [disk1Cyan, disk1Cyan, cCyan, dCyan, disk1Cyan, disk1Cyan, gCyan, hCyan];
const reds = [aRed, bRed, cRed, dRed, eRed, fRed, gRed, hRed];
const oranges = [disk1Orange, disk1Orange, cOrange, dOrange, disk1Orange, disk1Orange, gOrange, hOrange];

// ---- layout ----
const colLeft = [55, 668];
const rowTop = [19, 483, 940, 1399];
const tagAbove = [5, 14, 9, 9]; // panel letter centre, px above the plot box
const plotW = 557, plotH = 395;
const padL = 55, padT = 32, padR = 12, padB = 55;

const fig = document.getElementById('fig');

function withBase(arr, span) {
  return [[-span, 1], ...arr, [span, 1]];
}

function line(arr, color, dashed, order) {
  return {
    data: arr.map(([x, y]) => ({ x, y })),
    borderColor: color,
    borderWidth: 1.4,
    borderDash: dashed ? [7, 5] : [],
    pointRadius: 0,
    fill: false,
    cubicInterpolationMode: 'monotone',
    order: order
  };
}

// draws "m_*=1M_⊙, ..." style notes: {x} italic, _x subscript
function drawNote(ctx, text, x, y) {
  const re = /\{([^}]*)\}|_([^=,\s]+)|([^{_]+)/g;
  let m;
  ctx.fillStyle = '#6e6e6e';
  ctx.textBaseline = 'alphabetic';
  while ((m = re.exec(text))) {
    if (m[1] !== undefined) {
      ctx.font = 'italic 16px "DejaVu Sans Mono"';
      ctx.fillText(m[1], x, y);
      x += ctx.measureText(m[1]).width;
    } else if (m[2] !== undefined) {
      const star = m[2] === '*';
      ctx.font = star ? 'bold 13px "DejaVu Sans"' : '11px "DejaVu Sans Mono"';
      ctx.fillText(m[2], x, y + (star ? 7 : 4));
      x += ctx.measureText(m[2]).width + 1;
    } else {
      ctx.font = '16px "DejaVu Sans Mono"';
      ctx.fillText(m[3], x, y);
      x += ctx.measureText(m[3]).width;
    }
  }
}

const frame = {
  id: 'frame',
  afterDatasetsDraw(chart, args, opts) {
    const { ctx, chartArea: a, scales: { x, y } } = chart;
    ctx.save();
    ctx.strokeStyle = '#111';
    ctx.lineWidth = 1.3;
    ctx.strokeRect(a.left, a.top, a.right - a.left, a.bottom - a.top);
    ctx.lineWidth = 1;
    ctx.beginPath();
    for (let v = vMin; v <= vMax; v += 10) {
      const px = Math.round(x.getPixelForValue(v)) + 0.5;
      const len = v % xLabelStep === 0 ? 10 : 5;
      ctx.moveTo(px, a.bottom); ctx.lineTo(px, a.bottom - len);
      ctx.moveTo(px, a.top); ctx.lineTo(px, a.top + len);
    }
    const n = Math.round((y.max - y.min) / 0.01);
    for (let k = 0; k <= n; k++) {
      const py = Math.round(y.getPixelForValue(y.min + k * 0.01)) + 0.5;
      const len = k % 10 === 0 ? 13 : 7;
      ctx.moveTo(a.left, py); ctx.lineTo(a.left + len, py);
      ctx.moveTo(a.right, py); ctx.lineTo(a.right - len, py);
    }
    ctx.stroke();
    ctx.restore();
  },
  afterDraw(chart, args, opts) {
    const { ctx, chartArea: a } = chart;
    ctx.save();
    drawNote(ctx, opts.note, a.left + 19, a.top + 27);
    ctx.fillStyle = '#555';
    ctx.font = '16px "DejaVu Sans Mono"';
    ctx.textBaseline = 'middle';
    if ('letterSpacing' in ctx) ctx.letterSpacing = '2px';
    ctx.fillText(opts.tag, a.left - 41, a.top - opts.tagAbove);
    ctx.restore();
  }
};

for (let i = 0; i < 8; i++) {
  const col = i % 2, row = Math.floor(i / 2);
  const cv = document.createElement('canvas');
  cv.width = padL + plotW + padR;
  cv.height = padT + plotH + padB;
  cv.style.left = (colLeft[col] - padL) + 'px';
  cv.style.top = (rowTop[row] - padT) + 'px';
  fig.appendChild(cv);

  const dashBlack = dashOnBase[i] ? withBase(blacks[i], blueSpan[i]) : blacks[i];
  const dashCyan = dashOnBase[i] ? withBase(cyans[i], greenSpan[i]) : cyans[i];
  const dashOrange = dashOnBase[i] ? withBase(oranges[i], redSpan[i]) : oranges[i];

  new Chart(cv, {
    type: 'line',
    data: {
      datasets: [
        line(dashBlack, '#000000', true, 0),
        line(dashCyan, '#22dcf0', true, 1),
        line(dashOrange, '#ffb000', true, 2),
        line(withBase(blues[i], blueSpan[i]), '#2318e0', false, 3),
        line(withBase(greens[i], greenSpan[i]), '#1ee61e', false, 4),
        line(withBase(reds[i], redSpan[i]), '#ff1c1c', false, 5)
      ]
    },
    options: {
      responsive: false,
      animation: false,
      events: [],
      layout: { padding: { top: padT, right: padR, bottom: 0, left: 0 } },
      plugins: {
        legend: { display: false },
        tooltip: { enabled: false },
        frame: { note: notes[i], tag: tags[i], tagAbove: tagAbove[row] }
      },
      scales: {
        x: {
          type: 'linear',
          min: vMin,
          max: vMax,
          grid: { display: false, drawTicks: false },
          border: { display: false },
          ticks: {
            stepSize: xLabelStep,
            includeBounds: false,
            padding: 8,
            maxRotation: 0,
            autoSkip: false,
            color: '#000',
            font: { family: 'DejaVu Sans', size: 15 },
            callback: v => (v < 0 ? '\u2212' + Math.abs(v) : String(v))
          },
          title: {
            display: true,
            text: 'v (km/s)',
            color: '#000',
            font: { family: 'DejaVu Sans', size: 14 },
            padding: { top: 0, bottom: 12 }
          },
          afterFit: s => { s.height = padB; }
        },
        y: {
          type: 'linear',
          min: 1.0,
          max: yTops[i],
          grid: { display: false, drawTicks: false },
          border: { display: false },
          ticks: {
            stepSize: yStep,
            includeBounds: false,
            padding: 4,
            color: '#000',
            font: { family: 'DejaVu Sans', size: 15 },
            callback: v => v.toFixed(1)
          },
          title: {
            display: true,
            text: 'Normalized Flux',
            color: '#000',
            font: { family: 'DejaVu Sans', size: 14 },
            padding: { top: 5, bottom: 0 }
          },
          afterFit: s => { s.width = padL; }
        }
      }
    },
    plugins: [frame]
  });
}
</script>
</body>
</html>
